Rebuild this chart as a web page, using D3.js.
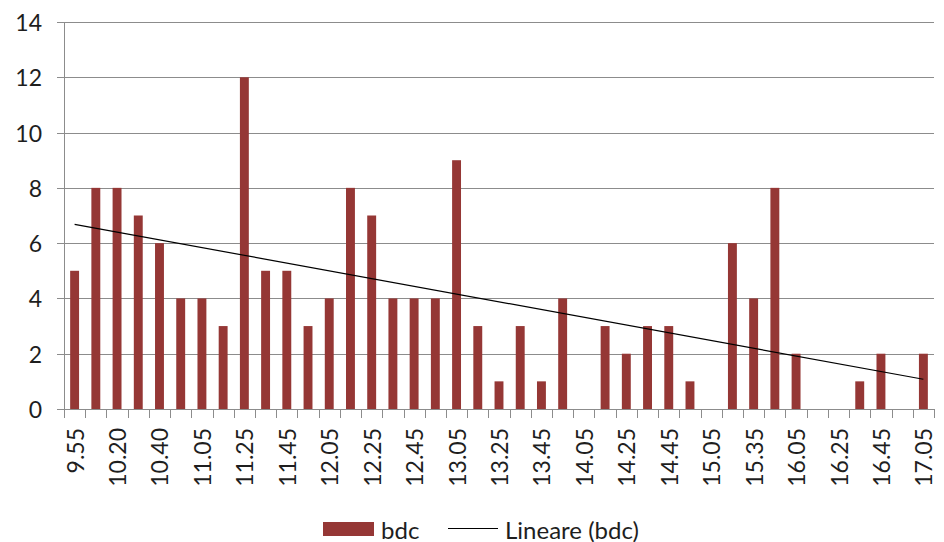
<!DOCTYPE html>
<html>
<head>
<meta charset="utf-8">
<script src="https://cdn.jsdelivr.net/npm/d3@7/dist/d3.min.js"></script>
<style>
  html, body { margin: 0; padding: 0; background: #fff; }
  svg { display: block; }
  text { font-family: Lato, "Open Sans", sans-serif; fill: #1e1e1e; }
</style>
</head>
<body>
<svg id="chart" width="944" height="542"></svg>
<script>
// Time slots (every other one is labelled on the axis)
const times = [
  "9.55", "10.05", "10.20", "10.30", "10.40", "10.50", "11.05", "11.15",
  "11.25", "11.35", "11.45", "11.55", "12.05", "12.15", "12.25", "12.35",
  "12.45", "12.55", "13.05", "13.15", "13.25", "13.35", "13.45", "13.55",
  "14.05", "14.15", "14.25", "14.35", "14.45", "14.55", "15.05", "15.20",
  "15.35", "15.50", "16.05", "16.15", "16.25", "16.35", "16.45", "16.55",
  "17.05"
];
// bdc counts per slot
const bdc = [
  5, 8, 8, 7, 6, 4, 4, 3,
  12, 5, 5, 3, 4, 8, 7, 4,
  4, 4, 9, 3, 1, 3, 1, 4,
  0, 3, 2, 3, 3, 1, 0, 6,
  4, 8, 2, 0, 0, 1, 2, 0,
  2
];
const yTicks = [0, 2, 4, 6, 8, 10, 12, 14];
const seriesName = "bdc";
const trendName = "Lineare (bdc)";

const svg = d3.select("#chart");
const m = { left: 64, right: 934, top: 22, bottom: 409 };

const x = d3.scaleBand().domain(times).range([m.left, m.right]).paddingInner(0.58).paddingOuter(0.29);
const y = d3.scaleLinear().domain([0, 14]).range([m.bottom, m.top]);

// Horizontal gridlines with short outer ticks
const grid = svg.append("g");
grid.selectAll("line").data(yTicks).join("line")
  .attr("x1", m.left - 7).attr("x2", m.right)
  .attr("y1", d => Math.round(y(d)) + 0.5).attr("y2", d => Math.round(y(d)) + 0.5)
  .attr("stroke", "#8c8c8c").attr("stroke-width", 1);

// Y axis labels
svg.append("g").selectAll("text").data(yTicks).join("text")
  .attr("x", 42).attr("y", d => y(d))
  .attr("text-anchor", "end").attr("dominant-baseline", "central")
  .style("font-size", "23px")
  .text(d => d);

// Vertical axis line
svg.append("line")
  .attr("x1", m.left + 0.5).attr("x2", m.left + 0.5)
  .attr("y1", m.top).attr("y2", m.bottom)
  .attr("stroke", "#8c8c8c");

// Bars
svg.append("g").selectAll("rect").data(bdc).join("rect")
  .attr("x", (d, i) => x(times[i]))
  .attr("width", x.bandwidth())
  .attr("y", d => y(d))
  .attr("height", d => y(0) - y(d))
  .attr("fill", "#953735");

// Category tick marks between slots
const boundaries = d3.range(times.length + 1).map(i => m.left + i * (m.right - m.left) / times.length);
svg.append("g").selectAll("line").data(boundaries).join("line")
  .attr("x1", d => Math.round(d) + 0.5).attr("x2", d => Math.round(d) + 0.5)
  .attr("y1", m.bottom).attr("y2", m.bottom + 9)
  .attr("stroke", "#8c8c8c");

// X labels, rotated, every other slot
const cx = t => x(t) + x.bandwidth() / 2;
svg.append("g").selectAll("text").data(times.filter((t, i) => i % 2 === 0)).join("text")
  .attr("transform", t => `translate(${cx(t)},${m.bottom + 19}) rotate(-90)`)
  .attr("text-anchor", "end").attr("dominant-baseline", "central")
  .style("font-size", "23px")
  .text(t => t);

// Linear trendline (least squares on slot index)
const n = bdc.length;
const xs = d3.range(n);
const mx = d3.mean(xs), my = d3.mean(bdc);
const slope = d3.sum(xs, i => (i - mx) * (bdc[i] - my)) / d3.sum(xs, i => (i - mx) ** 2);
const icpt = my - slope * mx;
svg.append("line")
  .attr("x1", cx(times[0])).attr("y1", y(icpt))
  .attr("x2", cx(times[n - 1])).attr("y2", y(icpt + slope * (n - 1)))
  .attr("stroke", "#000").attr("stroke-width", 1.2);

// Legend
const lg = svg.append("g");
lg.append("rect").attr("x", 323).attr("y", 522).attr("width", 51).attr("height", 14).attr("fill", "#953735");
lg.append("text").attr("x", 381).attr("y", 529).attr("dominant-baseline", "central").style("font-size", "24px").text(seriesName);
lg.append("line").attr("x1", 448).attr("x2", 498).attr("y1", 528.5).attr("y2", 528.5).attr("stroke", "#000").attr("stroke-width", 1.2);
lg.append("text").attr("x", 505).attr("y", 529).attr("dominant-baseline", "central").style("font-size", "24px").text(trendName);
</script>
</body>
</html>
